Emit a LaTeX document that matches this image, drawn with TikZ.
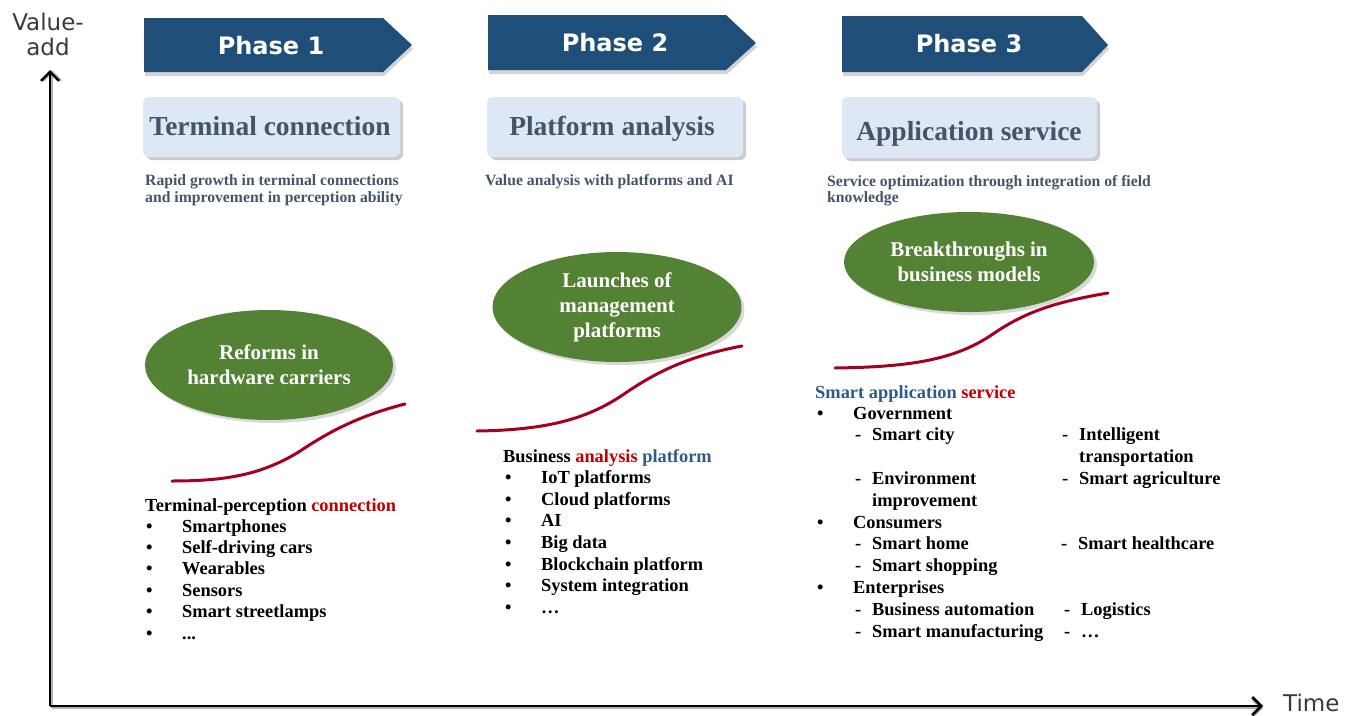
\documentclass[tikz,border=0pt]{standalone}
\usepackage{fontspec}
\setmainfont{Liberation Serif}
\newfontfamily\sansf{DejaVu Sans}
\usetikzlibrary{shapes.geometric,shadows,arrows.meta}
\definecolor{phaseblue}{HTML}{1F4E79}
\definecolor{lightbox}{HTML}{DDE8F4}
\definecolor{slate}{HTML}{44546A}
\definecolor{leafgreen}{HTML}{548235}
\definecolor{curvered}{HTML}{A50021}
\definecolor{txtred}{HTML}{C00000}
\definecolor{txtblue}{HTML}{2E5C8A}
\definecolor{axisgray}{HTML}{3A3A3A}
\begin{document}
\begin{tikzpicture}[x=1pt,y=-1pt,
  phasearrow/.style={fill=phaseblue,drop shadow={shadow xshift=1pt,shadow yshift=-4pt,opacity=0.35}},
  phasetext/.style={text=white,font=\sansf\bfseries\fontsize{24}{28}\selectfont,inner sep=0,anchor=base},
  lbox/.style={fill=lightbox,rounded corners=6pt,drop shadow={shadow xshift=3pt,shadow yshift=-3pt,opacity=0.4}},
  lboxtext/.style={text=slate,font=\bfseries\fontsize{27.5}{30}\selectfont,inner sep=0,anchor=base},
  desc/.style={text=slate,font=\bfseries\fontsize{15.7}{18}\selectfont,inner sep=0,anchor=base west},
  leaf/.style={ellipse,fill=leafgreen,text=white,align=center,inner sep=0,
    font=\bfseries\fontsize{21}{25}\selectfont,
    drop shadow={shadow xshift=3pt,shadow yshift=-3pt,opacity=0.3}},
  scurve/.style={draw=curvered,line width=3pt,line cap=round},
  lt/.style={font=\bfseries\fontsize{18.4}{22}\selectfont,inner sep=0,anchor=base west},
  axislabel/.style={text=axisgray,font=\sansf\fontsize{23}{26}\selectfont,inner sep=0},
  axisline/.style={line width=2.5pt,-{Straight Barb[length=9pt,width=18pt,line width=2.5pt]}}
]
\useasboundingbox (0,0) rectangle (1357,715);

% axes
\coordinate (O) at (50,706);
\coordinate (ytop) at (50,70);
\coordinate (xend) at (1263,706);
\draw[axisline,draw=gray!60] ([xshift=2pt,yshift=-2pt]O) -- ([xshift=2pt]ytop);
\draw[axisline,draw=gray!60] ([xshift=2pt,yshift=-2pt]O) -- ([yshift=-2pt]xend);
\draw[axisline] (O) -- (ytop);
\draw[axisline] (O) -- (xend);
\node[axislabel,anchor=base] (va1) at (48,30) {Value-};
\node[axislabel,anchor=base] (va2) at (48,55) {add};
\node[axislabel,anchor=base west] (time) at (1283,711) {Time};

% phase arrows
\path[phasearrow] (144,18) -- (383,18) -- (412,45) -- (383,72) -- (144,72) -- cycle;
\path[phasearrow] (488,15) -- (726,15) -- (756,43) -- (726,70) -- (488,70) -- cycle;
\path[phasearrow] (842,16) -- (1082,16) -- (1108,45) -- (1082,72) -- (842,72) -- cycle;
\node[phasetext] (p1) at (271,54) {Phase 1};
\node[phasetext] (p2) at (615,51) {Phase 2};
\node[phasetext] (p3) at (969,52) {Phase 3};

% light boxes
\path[lbox] (143,97) rectangle (400,157);
\path[lbox] (487,97) rectangle (743,157);
\path[lbox] (842,97) rectangle (1097,158);
\node[lboxtext] (b1) at (270,135) {Terminal connection};
\node[lboxtext] (b2) at (612,135) {Platform analysis};
\node[lboxtext] (b3) at (969,140) {Application service};

% descriptions
\node[desc] (d1a) at (145,185) {Rapid growth in terminal connections};
\node[desc] (d1b) at (145,202) {and improvement in perception ability};
\node[desc] (d2a) at (485,185) {Value analysis with platforms and AI};
\node[desc] (d3a) at (827,186) {Service optimization through integration of field};
\node[desc] (d3b) at (827,202) {knowledge};

% green ellipses
\node[leaf,minimum width=248pt,minimum height=110pt] (e1) at (269,365) {Reforms in\\hardware carriers};
\node[leaf,minimum width=249pt,minimum height=110pt] (e2) at (617,307) {Launches of\\management\\platforms};
\node[leaf,minimum width=250pt,minimum height=100pt] (e3) at (969,262) {Breakthroughs in\\business models};

% S-curves
\draw[scurve] (172,481) .. controls (225,481) and (260,475) .. (297,453)
  .. controls (320,438) and (350,418) .. (405,404);
\draw[scurve] (477,431) .. controls (550,430) and (590,418) .. (627,392)
  .. controls (660,370) and (690,356) .. (742,346);
\draw[scurve] (835,368) .. controls (910,367) and (955,360) .. (993,334)
  .. controls (1025,312) and (1055,302) .. (1108,293);

% list 1
\node[lt] (l1t) at (145,511) {Terminal-perception \textcolor{txtred}{connection}};
\foreach \s [count=\i from 0] in {Smartphones,Self-driving cars,Wearables,Sensors,Smart streetlamps} {
  \node[lt] (l1b\i) at (146,{532+21.4*\i}) {\textbullet};
  \node[lt] (l1i\i) at (182,{532+21.4*\i}) {\s};
}
\node[lt] (l1b5) at (146,639) {\textbullet};
\node[lt] (l1i5) at (182,639) {...};

% list 2
\node[lt] (l2t) at (503,462) {Business \textcolor{txtred}{analysis} \textcolor{txtblue}{platform}};
\foreach \s [count=\i from 0] in {IoT platforms,Cloud platforms,AI,Big data,Blockchain platform,System integration} {
  \node[lt] (l2b\i) at (505,{483.3+21.7*\i}) {\textbullet};
  \node[lt] (l2i\i) at (541,{483.3+21.7*\i}) {\s};
}
\node[lt] (l2b6) at (505,613.5) {\textbullet};
\node[lt] (l2i6) at (541,613.5) {…};

% list 3
\node[lt] (l3t) at (815,398) {\textcolor{txtblue}{Smart application} \textcolor{txtred}{service}};
\node[lt] (l3b0) at (817,419) {\textbullet};
\node[lt] (l3g) at (853,419) {Government};
\node[lt] (l3d1) at (855,440.8) {-};
\node[lt] (l3s1) at (872,440.8) {Smart city};
\node[lt] (l3d2) at (1062,440.8) {-};
\node[lt] (l3s2) at (1079,440.8) {Intelligent};
\node[lt] (l3s2b) at (1079,462.6) {transportation};
\node[lt] (l3d3) at (855,484.4) {-};
\node[lt] (l3s3) at (872,484.4) {Environment};
\node[lt] (l3s3b) at (872,506.2) {improvement};
\node[lt] (l3d4) at (1062,484.4) {-};
\node[lt] (l3s4) at (1079,484.4) {Smart agriculture};
\node[lt] (l3b1) at (817,528) {\textbullet};
\node[lt] (l3c) at (853,528) {Consumers};
\node[lt] (l3d5) at (855,549.8) {-};
\node[lt] (l3s5) at (872,549.8) {Smart home};
\node[lt] (l3d6) at (1061,549.8) {-};
\node[lt] (l3s6) at (1078,549.8) {Smart healthcare};
\node[lt] (l3d7) at (855,571.6) {-};
\node[lt] (l3s7) at (872,571.6) {Smart shopping};
\node[lt] (l3b2) at (817,593.4) {\textbullet};
\node[lt] (l3e) at (853,593.4) {Enterprises};
\node[lt] (l3d8) at (855,615.2) {-};
\node[lt] (l3s8) at (872,615.2) {Business automation};
\node[lt] (l3d9) at (1064,615.2) {-};
\node[lt] (l3s9) at (1081,615.2) {Logistics};
\node[lt] (l3d10) at (855,637) {-};
\node[lt] (l3s10) at (872,637) {Smart manufacturing};
\node[lt] (l3d11) at (1064,637) {-};
\node[lt] (l3s11) at (1081,637) {…};
\end{tikzpicture}
\end{document}
